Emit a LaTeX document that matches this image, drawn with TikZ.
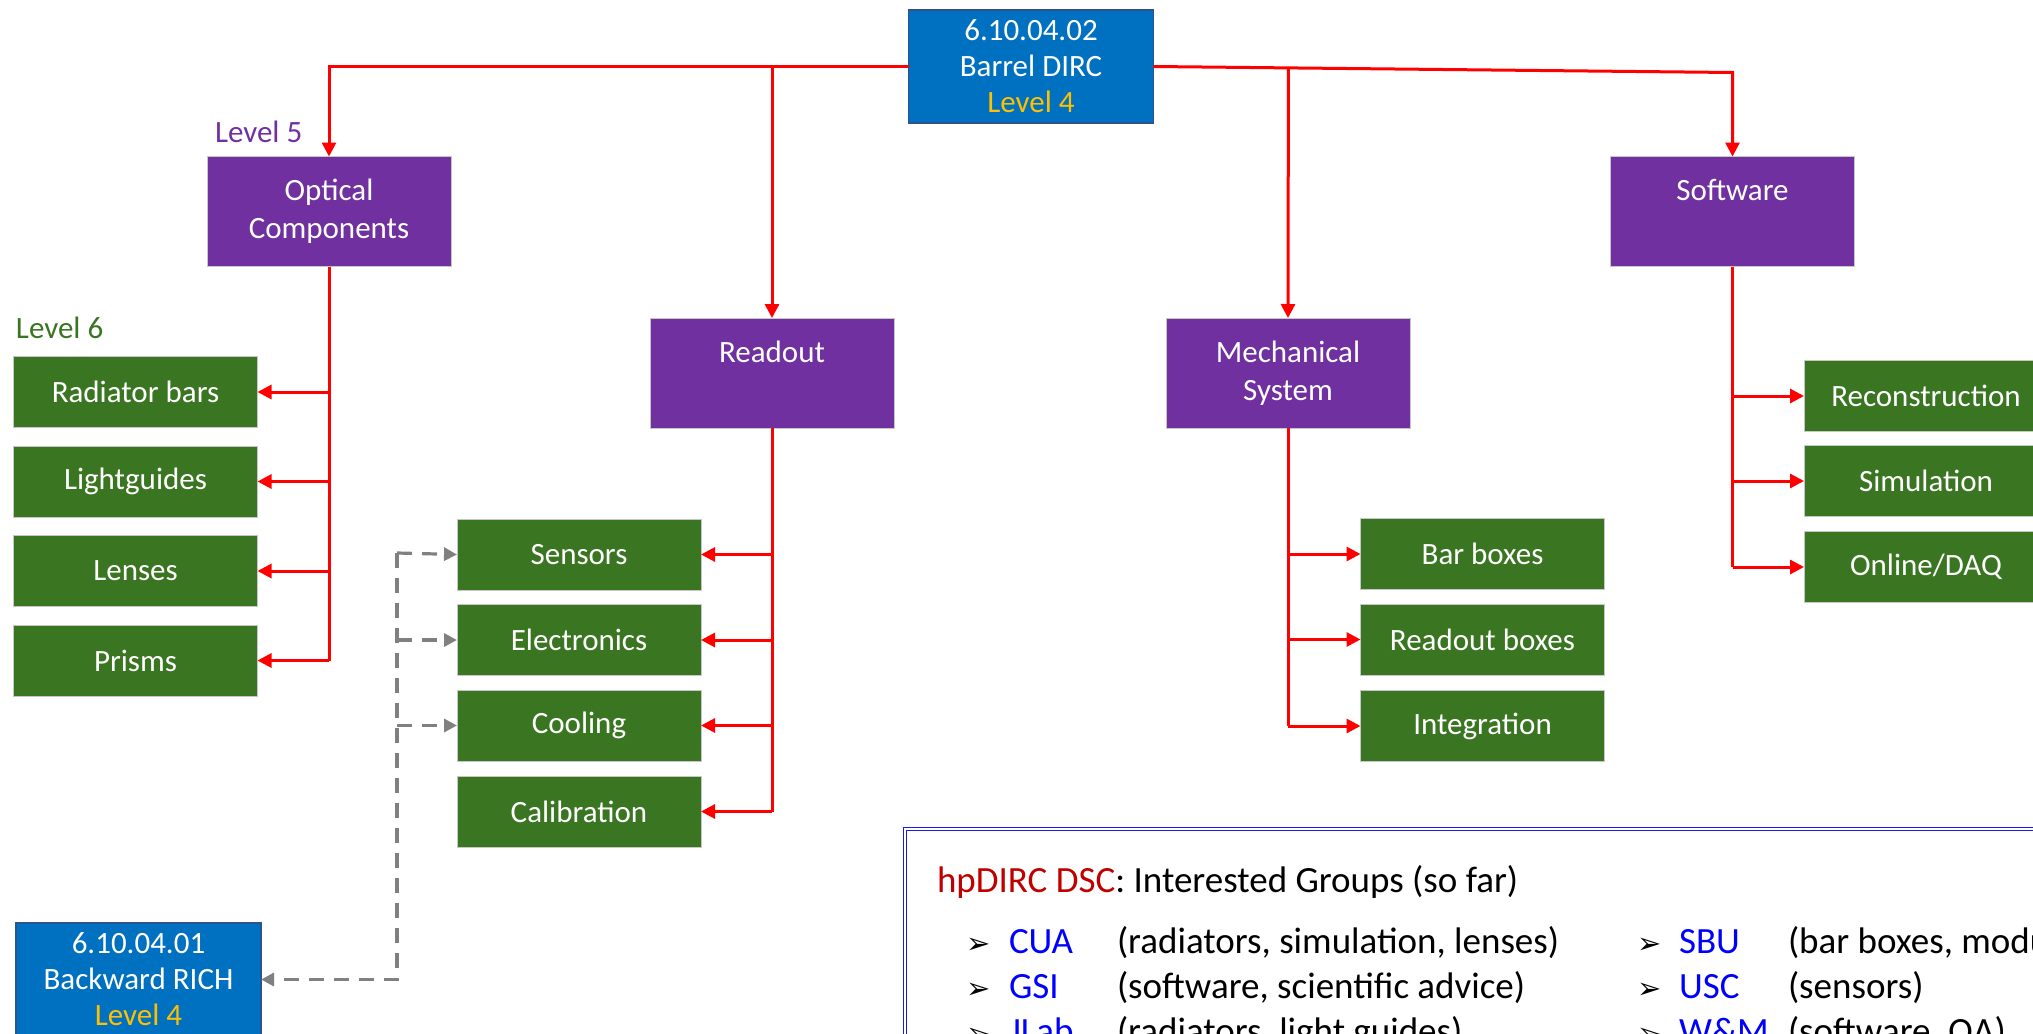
\documentclass[tikz,border=0pt]{standalone}
\usepackage{fontspec}
\setmainfont{Carlito}
\newfontfamily\symfont{DejaVu Sans}
\usetikzlibrary{arrows.meta,calc}

\definecolor{nodeblue}{HTML}{0070C0}
\definecolor{nodeblueline}{HTML}{2F528F}
\definecolor{lvlpurple}{HTML}{7030A0}
\definecolor{lvlgreen}{RGB}{58,118,33}
\definecolor{lvlgold}{HTML}{FFC000}
\definecolor{linkred}{HTML}{FF0000}
\definecolor{linkgrey}{HTML}{808080}
\definecolor{dscred}{HTML}{C00000}
\definecolor{dscblue}{HTML}{0000FF}
\definecolor{framecol}{RGB}{25,25,235}

\begin{document}
\begin{tikzpicture}[x=1pt,y=-1pt,
  every node/.style={inner sep=0pt, outer sep=0pt},
  boxtext/.style={font=\fontsize{31}{36}\selectfont, text=white, align=center},
  topbox/.style={boxtext, fill=nodeblue, draw=nodeblueline, line width=1.2pt,
    minimum width=245pt, minimum height=113pt},
  lfivebox/.style={boxtext, font=\fontsize{31}{38}\selectfont, fill=lvlpurple,
    draw=black!22, line width=0.8pt, minimum width=244pt, minimum height=110pt},
  lsixbox/.style={boxtext, fill=lvlgreen, draw=black!22, line width=0.8pt,
    minimum width=244pt, minimum height=71pt},
  lvllabel/.style={font=\fontsize{31}{36}\selectfont, anchor=west},
  redline/.style={draw=linkred, line width=3pt},
  redlink/.style={redline, -{Triangle[length=14pt,width=14pt]}},
  greylink/.style={draw=linkgrey, line width=3.2pt, dash pattern=on 15pt off 10pt,
    -{Triangle[length=13pt,width=13pt]}},
  dsctext/.style={font=\fontsize{37}{40}\selectfont, anchor=base west},
  bullet/.style={font=\symfont\fontsize{29}{30}\selectfont, anchor=base west},
]
\path[use as bounding box] (0,0) rectangle (2033,1033);
\clip (0,0) rectangle (2033,1033);

% level 4 nodes
\node[topbox] (top) at (1031,66.5)
  {6.10.04.02\\Barrel DIRC\\\textcolor{lvlgold}{Level 4}};
\node[topbox] (rich) at (138.5,979.5)
  {6.10.04.01\\Backward RICH\\\textcolor{lvlgold}{Level 4}};

% level 5 nodes
\node[lfivebox] (opt)  at (329,211.5)   {Optical\\Components};
\node[lfivebox] (rd)   at (772,373)     {Readout\\\phantom{Ag}};
\node[lfivebox] (mech) at (1288,373)    {Mechanical\\System};
\node[lfivebox] (sw)   at (1732.5,211.5){Software\\\phantom{Ag}};

\node[lvllabel, text=lvlpurple] (lfive) at (215,132) {Level 5};
\node[lvllabel, text=lvlgreen]  (lsix)  at (16,328)  {Level 6};

% level 6: optical components
\node[lsixbox] (rad)   at (135.5,392)   {Radiator bars};
\node[lsixbox] (lgt)   at (135.5,481.5) {Lightguides};
\node[lsixbox] (lens)  at (135.5,571)   {Lenses};
\node[lsixbox] (prism) at (135.5,660.5) {Prisms};

% level 6: readout
\node[lsixbox] (sens)  at (579,554.5) {Sensors};
\node[lsixbox] (elec)  at (579,640)   {Electronics};
\node[lsixbox] (cool)  at (579,725.5) {Cooling};
\node[lsixbox] (calib) at (579,811.5) {Calibration};

% level 6: mechanical system
\node[lsixbox] (barb)  at (1482.5,554)   {Bar boxes};
\node[lsixbox] (rdb)   at (1482.5,639.5) {Readout boxes};
\node[lsixbox] (integ) at (1482.5,726)   {Integration};

% level 6: software
\node[lsixbox] (reco)  at (1926,396) {Reconstruction};
\node[lsixbox] (sim)   at (1926,481) {Simulation};
\node[lsixbox] (daq)   at (1926,567) {Online/DAQ};

% top-level distribution
\coordinate (swturn) at (1732.5,72.5);
\draw[redlink] (top.west) -| (opt.north);
\draw[redlink] (top.west -| rd.north) -- (rd.north);
\draw[redlink] (top.east) -- (swturn) -- (sw.north);
\draw[redlink] ($(top.east)!0.233!(swturn)$) -- (mech.north);

% optical components tree
\draw[redline] (opt.south) -- (opt.south |- prism.east);
\foreach \c in {rad,lgt,lens,prism}
  \draw[redlink] (opt.south |- \c.east) -- (\c.east);

% readout tree
\draw[redline] (rd.south) -- (rd.south |- calib.east);
\foreach \c in {sens,elec,cool,calib}
  \draw[redlink] (rd.south |- \c.east) -- (\c.east);

% mechanical tree
\draw[redline] (mech.south) -- (mech.south |- integ.west);
\foreach \c in {barb,rdb,integ}
  \draw[redlink] (mech.south |- \c.west) -- (\c.west);

% software tree
\draw[redline] (sw.south) -- (sw.south |- daq.west);
\foreach \c in {reco,sim,daq}
  \draw[redlink] (sw.south |- \c.west) -- (\c.west);

% shared readout items with the backward RICH
\coordinate (dtop) at ([xshift=-60pt,yshift=1.5pt]sens.west);
\draw[greylink] (dtop) -- (sens.west);
\draw[greylink] (dtop |- elec.west) -- (elec.west);
\draw[greylink] (dtop |- cool.west) -- (cool.west);
\draw[greylink] (dtop) |- (rich.east);

% interested groups panel
\node[draw=framecol, double, double distance=2.3pt, line width=1.3pt,
  minimum width=1400pt, minimum height=400pt, anchor=north west]
  (dsc) at (905,829) {};

\node[dsctext] (dsctitle) at (937,892)
  {\textcolor{dscred}{hpDIRC DSC}: Interested Groups (so far)};

\node[bullet] (b1) at (966,953)  {➢};
\node[dsctext, text=dscblue] (g1) at (1009,953) {CUA};
\node[dsctext] (d1) at (1117,953) {(radiators, simulation, lenses)};
\node[bullet] (b2) at (966,998)  {➢};
\node[dsctext, text=dscblue] (g2) at (1009,998) {GSI};
\node[dsctext] (d2) at (1117,998) {(software, scientific advice)};
\node[bullet] (b3) at (966,1043) {➢};
\node[dsctext, text=dscblue] (g3) at (1009,1043) {JLab};
\node[dsctext] (d3) at (1117,1043) {(radiators, light guides)};

\node[bullet] (b4) at (1637,953)  {➢};
\node[dsctext, text=dscblue] (g4) at (1679,953) {SBU};
\node[dsctext] (d4) at (1788,953) {(bar boxes, modules)};
\node[bullet] (b5) at (1637,998)  {➢};
\node[dsctext, text=dscblue] (g5) at (1679,998) {USC};
\node[dsctext] (d5) at (1788,998) {(sensors)};
\node[bullet] (b6) at (1637,1043) {➢};
\node[dsctext, text=dscblue] (g6) at (1679,1043) {W\&M};
\node[dsctext] (d6) at (1788,1043) {(software, QA)};
\end{tikzpicture}
\end{document}
